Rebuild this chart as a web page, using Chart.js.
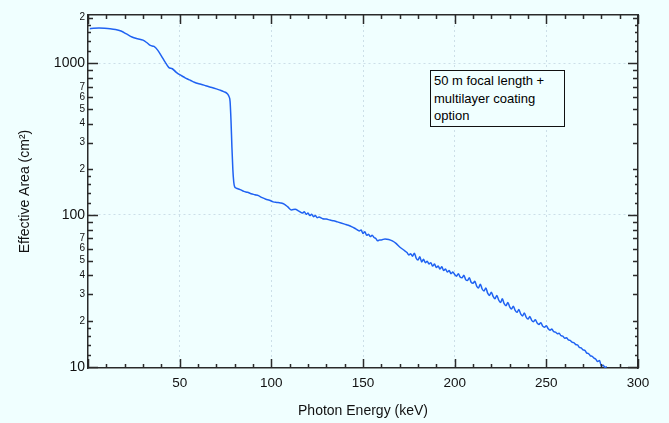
<!DOCTYPE html>
<html lang="en">
<head>
  <meta charset="UTF-8">
  <title>Effective Area</title>
  <script src="https://cdn.jsdelivr.net/npm/chart.js"></script>
  <style>
    body { margin: 0; background: #f0ffff; font-family: "Liberation Sans", Arial, sans-serif; }
    .wrap { position: relative; width: 669px; height: 423px; }
    .nota {
      position: absolute; left: 430px; top: 70px; width: 130px;
      border: 1px solid #111; background: #f0ffff;
      font-size: 13px; line-height: 17.5px; padding: 1px 0 1px 3px; color: #000;
    }
  </style>
</head>
<body>
  <div class="wrap">
    <canvas id="grafico" width="669" height="423"></canvas>
    <div class="nota">50 m focal length +<br>multilayer coating<br>option</div>
  </div>
<script>
  // energia (keV) e area efetiva (cm2)
  const energia = [1, 3, 6, 9, 12, 15, 18, 21, 24, 27, 30, 32, 34, 36, 38, 40, 42, 44, 46, 48,
    50, 52, 54, 56, 58, 60, 62, 64, 66, 68, 70, 72, 74, 76, 77, 77.5, 78, 78.5, 79, 79.5,
    80, 81, 83, 85, 87, 89, 91, 93, 95, 97, 99, 101, 103, 105, 107, 109, 111, 113, 115, 117,
    118, 119, 120, 121, 122, 123, 124, 125, 126, 128, 130, 132, 134, 136, 138, 140, 142, 144, 146, 148,
    149, 150, 151, 152, 153, 154, 155, 156, 157, 158, 159, 160, 162, 164, 166, 168, 170, 172, 174, 175,
    176, 177, 178, 179, 180, 181, 182, 183, 184, 185, 186, 187, 188, 189, 190, 191, 192, 193, 194, 195,
    196, 197, 198, 199, 200, 201, 202, 203, 204, 205, 206, 207, 208, 209, 210, 211, 212, 213, 214, 215,
    216, 217, 218, 219, 220, 221, 222, 223, 224, 225, 226, 227, 228, 229, 230, 231, 232, 233, 234, 235,
    236, 237, 238, 239, 240, 241, 242, 243, 244, 245, 246, 247, 248, 249, 250, 251, 252, 253, 254, 255,
    256, 257, 258, 259, 260, 261, 262, 263, 264, 265, 266, 267, 268, 269, 270, 271, 272, 273, 274, 275,
    276, 277, 278, 279, 280, 281, 282, 283]
  const area = [1690, 1700, 1705, 1700, 1690, 1670, 1630, 1560, 1490, 1450, 1420, 1370, 1310, 1290, 1220, 1120, 1020, 940, 920, 875,
    840, 815, 790, 770, 750, 735, 725, 712, 700, 690, 678, 665, 650, 630, 600, 560, 420, 280, 200, 165,
    153, 150, 147, 143, 141, 138, 136, 134, 130, 127, 125, 122, 121, 120, 118, 113, 108, 109, 106, 103,
    105, 101, 103, 99, 101, 97.5, 99, 96, 97, 94.5, 94, 92.5, 91.5, 90, 88.5, 87, 85.5, 83.5, 81, 78.5,
    79.5, 75.5, 77.5, 73.5, 74.5, 72, 73.5, 71, 70, 67.5, 68.5, 68.5, 69.5, 69, 67.5, 65, 61.5, 59, 56.5, 54.5,
    55.5, 53.5, 56, 52, 50.5, 53, 49, 51, 48.5, 49.5, 47.5, 48.5, 46, 47.5, 45, 46, 44, 45.5, 43, 44,
    42, 43, 41, 42, 40.5, 39.5, 41, 39, 38.5, 40, 37.5, 37, 38.5, 36, 35.5, 36.5, 34, 33, 35, 32.5,
    31.5, 33, 30.5, 29.5, 31, 29, 28, 29.5, 27.5, 26.5, 28, 26, 25.2, 26.5, 24.8, 24, 25, 23.5, 22.8, 23.8,
    22.3, 21.6, 22.6, 21.2, 20.6, 21.4, 20.2, 19.8, 20.4, 19.4, 19, 19.5, 18.5, 18.2, 18.6, 17.8, 17.4, 17.7, 17, 16.9,
    16.5, 16.6, 16, 15.9, 15.4, 15.5, 15, 14.9, 14.5, 14.4, 14, 13.9, 13.4, 13.3, 12.9, 12.8, 12.3, 12.2, 11.8, 11.7,
    11.4, 11.2, 10.8, 11, 10.1, 10.2, 9.9, 10]

  // marcas dos eixos
  const ticksX = [0, 10, 20, 30, 40, 50, 60, 70, 80, 90, 100, 110, 120, 130, 140, 150, 160, 170, 180, 190,
    200, 210, 220, 230, 240, 250, 260, 270, 280, 290, 300]
  const ticksY = [12, 14, 16, 18, 20, 30, 40, 50, 60, 70, 80, 90, 100, 120, 140, 160, 180,
    200, 300, 400, 500, 600, 700, 800, 900, 1000, 1200, 1400, 1600, 1800, 2000, 10]
  const rotulosY = { 10: '10', 20: '2', 30: '3', 40: '4', 50: '5', 60: '6', 70: '7',
    100: '100', 200: '2', 300: '3', 400: '4', 500: '5', 600: '6', 700: '7',
    1000: '1000', 2000: '2' }
  const decadas = [10, 100, 1000]

  const corEixo = '#2a2a2a'
  const corGrade = 'rgba(160,185,205,0.45)'

  function ehDecada(v) { return decadas.indexOf(v) !== -1 }
  function ehRotulado(v) { return rotulosY[v] !== undefined }

  // desenha as marcas para dentro nos quatro lados
  const marcas = {
    id: 'marcas',
    afterDraw(chart) {
      const ctx = chart.ctx
      const a = chart.chartArea
      const x = chart.scales.x
      const y = chart.scales.y
      ctx.save()
      ctx.strokeStyle = corEixo
      ctx.lineWidth = 1.5
      ctx.beginPath()
      ticksX.forEach(function (v) {
        const px = Math.round(x.getPixelForValue(v)) + 0.5
        const len = v % 50 === 0 ? 9 : 4
        ctx.moveTo(px, a.bottom); ctx.lineTo(px, a.bottom - len)
        ctx.moveTo(px, a.top); ctx.lineTo(px, a.top + len)
      })
      ticksY.forEach(function (v) {
        const py = Math.round(y.getPixelForValue(v)) + 0.5
        let len = 3
        if (ehDecada(v)) len = 10
        else if (ehRotulado(v) || v % 10 === 0 && v < 100 || v % 100 === 0 && v < 1000) len = 5
        ctx.moveTo(a.left, py); ctx.lineTo(a.left + len, py)
        ctx.moveTo(a.right, py); ctx.lineTo(a.right - len, py)
      })
      ctx.stroke()
      ctx.restore()
    }
  }

  const pontos = energia.map(function (e, i) { return { x: e, y: area[i] } })

  new Chart(document.getElementById('grafico'), {
    type: 'line',
    data: {
      datasets: [{
        data: pontos,
        borderColor: '#1f62f2',
        borderWidth: 1.5,
        pointRadius: 0,
        cubicInterpolationMode: 'monotone',
        fill: false
      }]
    },
    options: {
      responsive: false,
      animation: false,
      layout: { padding: 0 },
      plugins: { legend: { display: false }, tooltip: { enabled: false } },
      scales: {
        x: {
          type: 'linear', position: 'bottom', min: 0, max: 300,
          afterBuildTicks: function (s) { s.ticks = ticksX.map(function (v) { return { value: v } }) },
          afterFit: function (s) { s.height = 55 },
          ticks: {
            autoSkip: false, maxRotation: 0, padding: 7, color: '#111',
            font: { family: 'Liberation Sans', size: 13.5 },
            callback: function (v) { return (v % 50 === 0 && v !== 0) ? String(v) : '' }
          },
          grid: {
            drawTicks: false,
            color: function (c) { return (c.tick && c.tick.value % 50 === 0 && c.tick.value > 0 && c.tick.value < 300) ? corGrade : 'transparent' },
            lineWidth: 1
          },
          border: { color: corEixo, width: 1.5, dash: [2, 3] },
          title: { display: true, text: 'Photon Energy (keV)', color: '#111', font: { family: 'Liberation Sans', size: 14 }, padding: { top: 0, bottom: 3 } }
        },
        x2: {
          type: 'linear', position: 'top', min: 0, max: 300,
          afterFit: function (s) { s.height = 15 },
          ticks: { display: false },
          grid: { display: false, drawTicks: false },
          border: { color: corEixo, width: 1.5 }
        },
        y: {
          type: 'logarithmic', position: 'left', min: 9.8, max: 2080,
          afterBuildTicks: function (s) { s.ticks = ticksY.map(function (v) { return { value: v } }) },
          afterFit: function (s) { s.width = 88 },
          ticks: {
            autoSkip: false, padding: 3, color: '#111',
            font: function (c) {
              const v = c.tick ? c.tick.value : 0
              return { family: 'Liberation Sans', size: ehDecada(v) ? 14 : 10 }
            },
            callback: function (v) { return rotulosY[v] || '' }
          },
          grid: {
            drawTicks: false,
            color: function (c) { return (c.tick && (c.tick.value === 100 || c.tick.value === 1000)) ? corGrade : 'transparent' },
            lineWidth: 1
          },
          border: { color: corEixo, width: 1.5, dash: [2, 3] },
          title: { display: true, text: 'Effective Area (cm²)', color: '#111', font: { family: 'Liberation Sans', size: 14 }, padding: { top: 17, bottom: 0 } }
        },
        y2: {
          type: 'logarithmic', position: 'right', min: 9.8, max: 2080,
          afterFit: function (s) { s.width = 31 },
          ticks: { display: false },
          grid: { display: false, drawTicks: false },
          border: { color: corEixo, width: 1.5 }
        }
      }
    },
    plugins: [marcas]
  })
</script>
</body>
</html>
